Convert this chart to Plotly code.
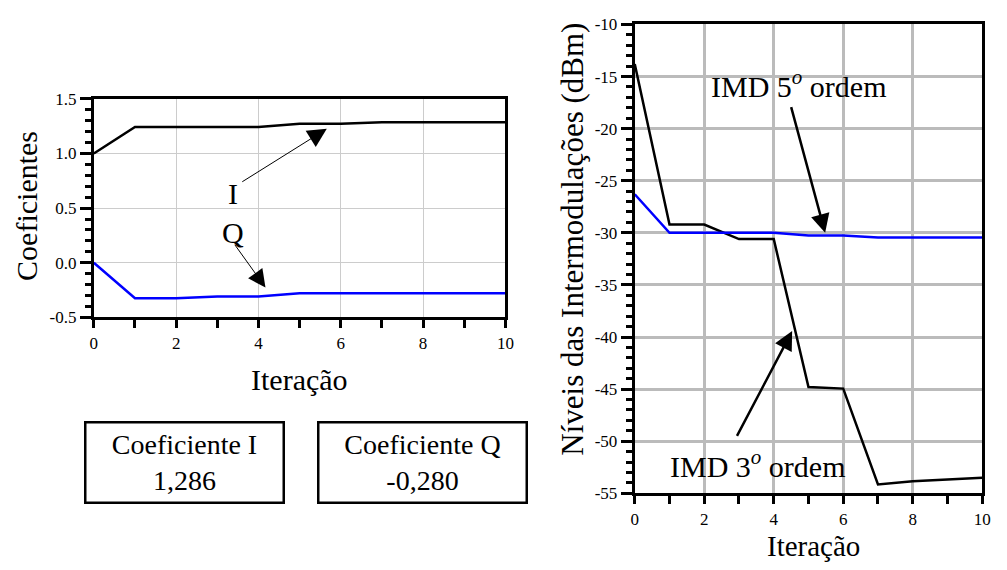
import plotly.graph_objects as go

# Iteration index shared by both panels
iteracao = list(range(11))

# Adaptive coefficients per iteration
coef_i = [1.0, 1.243, 1.243, 1.243, 1.243, 1.272, 1.272, 1.286, 1.286, 1.286, 1.286]
coef_q = [0.0, -0.325, -0.325, -0.31, -0.31, -0.28, -0.28, -0.28, -0.28, -0.28, -0.28]

# Intermodulation levels (dBm) per iteration
imd3 = [-13.8, -29.2, -29.2, -30.6, -30.6, -44.8, -44.95, -54.15, -53.85, -53.65, -53.5]
imd5 = [-26.3, -30.0, -30.0, -30.0, -30.0, -30.25, -30.25, -30.45, -30.45, -30.45, -30.45]

# Tick labels
iter_ticks = [0, 2, 4, 6, 8, 10]
coef_ticks = [-0.5, 0.0, 0.5, 1.0, 1.5]
coef_ticktext = ["-0.5", "0.0", "0.5", "1.0", "1.5"]
imd_ticks = [-55, -50, -45, -40, -35, -30, -25, -20, -15, -10]
imd_ticktext = ["-55", "-50", "-45", "-40", "-35", "-30", "-25", "-20", "-15", "-10"]

FONT = "Liberation Serif, Times New Roman, serif"
W, H = 1007, 570


def px(x):
    return x / W


def py(y):
    return 1 - y / H


fig = go.Figure()

fig.add_trace(go.Scatter(x=iteracao, y=coef_i, mode="lines",
                         line=dict(color="black", width=2.5), xaxis="x", yaxis="y"))
fig.add_trace(go.Scatter(x=iteracao, y=coef_q, mode="lines",
                         line=dict(color="#0000ff", width=2.5), xaxis="x", yaxis="y"))
fig.add_trace(go.Scatter(x=iteracao, y=imd3, mode="lines",
                         line=dict(color="black", width=2.5), xaxis="x2", yaxis="y2"))
fig.add_trace(go.Scatter(x=iteracao, y=imd5, mode="lines",
                         line=dict(color="#0000ff", width=2.5), xaxis="x2", yaxis="y2"))

tickfont = dict(family=FONT, size=17, color="black")

common_x = dict(range=[0, 10], tickmode="array", tickvals=iter_ticks,
                ticks="outside", ticklen=8, tickwidth=3, tickcolor="black",
                showline=True, linewidth=3, linecolor="black", mirror=True,
                zeroline=False, tickfont=tickfont,
                minor=dict(tickmode="linear", tick0=0, dtick=1, ticks="outside",
                           ticklen=8, tickwidth=3, tickcolor="black", showgrid=False))

fig.update_layout(
    width=W, height=H, autosize=False,
    margin=dict(l=0, r=0, t=0, b=0),
    paper_bgcolor="white", plot_bgcolor="white",
    showlegend=False,
    xaxis=dict(domain=[px(91), px(508)], anchor="y",
               showgrid=True, gridcolor="#cccccc", gridwidth=1, **common_x),
    yaxis=dict(domain=[py(319), py(93)], anchor="x", range=[-0.5, 1.5],
               tickmode="array", tickvals=coef_ticks, ticktext=coef_ticktext,
               ticks="outside", ticklen=11, tickwidth=3, tickcolor="black",
               showline=True, linewidth=3, linecolor="black", mirror=True,
               showgrid=True, gridcolor="#cccccc", gridwidth=1,
               zeroline=False, tickfont=tickfont,
               minor=dict(tickmode="linear", tick0=0, dtick=0.1, ticks="outside",
                          ticklen=6, tickwidth=2.5, tickcolor="black", showgrid=False)),
    xaxis2=dict(domain=[px(639), px(991)], anchor="y2",
                showgrid=True, gridcolor="#bbbbbb", gridwidth=2.5, **common_x),
    yaxis2=dict(domain=[py(501), py(16)], anchor="x2", range=[-55, -10],
                tickmode="array", tickvals=imd_ticks, ticktext=imd_ticktext,
                ticks="outside", ticklen=11, tickwidth=3, tickcolor="black",
                showline=True, linewidth=3, linecolor="black", mirror=True,
                showgrid=True, gridcolor="#bbbbbb", gridwidth=2.5,
                zeroline=False, tickfont=tickfont,
                minor=dict(tickmode="linear", tick0=-55, dtick=1, ticks="outside",
                           ticklen=6, tickwidth=2.5, tickcolor="black", showgrid=False)),
)

ann = []
big = dict(family=FONT, size=30, color="black")
center = dict(xanchor="center", yanchor="middle", showarrow=False)

# Axis titles
ann.append(dict(text="Coeficientes", x=px(22), y=py(204), xref="paper", yref="paper",
                textangle=-90, font=big, **center))
ann.append(dict(text="Iteração", x=px(299), y=py(383), xref="paper", yref="paper",
                font=big, **center))
ann.append(dict(text="Níveis das Intermodulações (dBm)", x=px(575), y=py(238),
                xref="paper", yref="paper", textangle=-90,
                font=dict(family=FONT, size=31, color="black"), **center))
ann.append(dict(text="Iteração", x=px(820), y=py(555), xref="paper", yref="paper",
                font=dict(family=FONT, size=29, color="black"), **center))

# Curve labels with pointer arrows (left panel)
ann.append(dict(text="I", x=3.37, y=0.63, xref="x", yref="y", font=big, **center))
ann.append(dict(text="Q", x=3.37, y=0.275, xref="x", yref="y", font=big, **center))
ann.append(dict(text="", x=5.66, y=1.226, ax=3.57, ay=0.733, xref="x", yref="y",
                axref="x", ayref="y", showarrow=True, arrowhead=2, arrowsize=3.8,
                arrowwidth=1, arrowcolor="black", standoff=0))
ann.append(dict(text="", x=4.17, y=-0.226, ax=3.4, ay=0.178, xref="x", yref="y",
                axref="x", ayref="y", showarrow=True, arrowhead=2, arrowsize=3.5,
                arrowwidth=1, arrowcolor="black", standoff=0))

# Curve labels with pointer arrows (right panel)
ann.append(dict(text="IMD 5<sup><i>o</i></sup> ordem", x=4.72, y=-15.75, xref="x2", yref="y2",
                font=big, **center))
ann.append(dict(text="IMD 3<sup><i>o</i></sup> ordem", x=3.52, y=-52.18, xref="x2", yref="y2",
                font=big, **center))
ann.append(dict(text="", x=5.48, y=-30.0, ax=4.49, ay=-17.79, xref="x2", yref="y2",
                axref="x2", ayref="y2", showarrow=True, arrowhead=2, arrowsize=1.5,
                arrowwidth=2.5, arrowcolor="black", standoff=0))
ann.append(dict(text="", x=4.53, y=-39.43, ax=2.92, ay=-49.64, xref="x2", yref="y2",
                axref="x2", ayref="y2", showarrow=True, arrowhead=2, arrowsize=1.5,
                arrowwidth=2.5, arrowcolor="black", standoff=0))

# Final coefficient values in boxes
val_i = f"{coef_i[-1]:.3f}".replace(".", ",")
val_q = f"{coef_q[-1]:.3f}".replace(".", ",")
box = dict(xref="paper", yref="paper", bordercolor="black",
           borderwidth=2.5, borderpad=0, bgcolor="white", align="center",
           height=78, font=dict(family=FONT, size=28, color="black"), **center)
ann.append(dict(text=f"Coeficiente I<br>{val_i}", x=px(182.5), y=py(469.5), width=196, **box))
ann.append(dict(text=f"Coeficiente Q<br>{val_q}", x=px(423.5), y=py(469.5), width=206, **box))

fig.update_layout(annotations=ann)

fig.write_html("out.html")
